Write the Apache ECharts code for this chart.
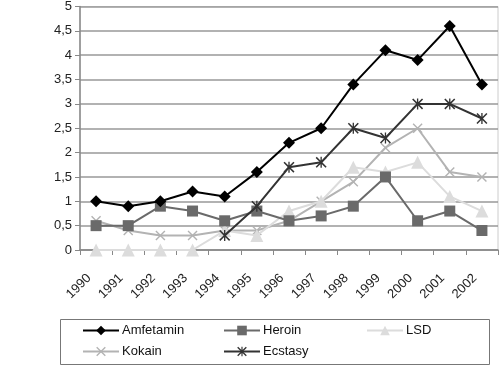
<!DOCTYPE html>
<html><head><meta charset="utf-8">
<script src="https://cdn.jsdelivr.net/npm/echarts@6/dist/echarts.min.js"></script>
<style>html,body{margin:0;padding:0;background:#fff}#c{width:500px;height:365px}</style>
</head><body><div id="c"></div>
<script>
const years = ['1990','1991','1992','1993','1994','1995','1996','1997','1998','1999','2000','2001','2002'];
const amfetamin = [1.0,0.9,1.0,1.2,1.1,1.6,2.2,2.5,3.4,4.1,3.9,4.6,3.4];
const heroin    = [0.5,0.5,0.9,0.8,0.6,0.8,0.6,0.7,0.9,1.5,0.6,0.8,0.4];
const lsd       = [0,0,0,0,0.4,0.3,0.8,1.0,1.7,1.6,1.8,1.1,0.8];
const kokain    = [0.6,0.4,0.3,0.3,0.4,0.4,0.6,1.0,1.4,2.1,2.5,1.6,1.5];
const ecstasy   = [null,null,null,null,0.3,0.9,1.7,1.8,2.5,2.3,3.0,3.0,2.7];
const yTicks = [0,0.5,1,1.5,2,2.5,3,3.5,4,4.5,5];

const crossPath = 'path://M0,2 L2,0 L10,8 L18,0 L20,2 L12,10 L20,18 L18,20 L10,12 L2,20 L0,18 L8,10 Z';
const starPath = 'path://M0,2 L2,0 L10,8 L18,0 L20,2 L12,10 L20,18 L18,20 L10,12 L2,20 L0,18 L8,10 Z M8.8,0 L11.2,0 L11.2,20 L8.8,20 Z';

const font = 'Liberation Sans, Arial, sans-serif';
function ser(name, data, color, symbol, size, z) {
  return {name, type:'line', data, symbol, symbolSize:size, z,
    lineStyle:{color, width:2}, itemStyle:{color, borderWidth:0},
    showAllSymbol:true, connectNulls:false, animation:false};
}
const chart = echarts.init(document.getElementById('c'));
const legendBase = {itemWidth:36, itemHeight:12, itemGap:0, textStyle:{fontFamily:font, fontSize:13, color:'#111', padding:[0,0,0,-2]}, selectedMode:false, padding:0};
chart.setOption({
  animation:false,
  grid:{left:80, right:2, top:6, bottom:115, show:true, borderColor:'#ccc', borderWidth:1},
  xAxis:{type:'category', data:years, boundaryGap:true,
    axisLine:{lineStyle:{color:'#888', width:1.5}},
    axisTick:{show:true, length:5, lineStyle:{color:'#888'}},
    axisLabel:{rotate:45, fontFamily:font, fontSize:13, color:'#222', margin:19, interval:0, padding:[0,10,0,0]},
    splitLine:{show:false}},
  yAxis:{type:'value', min:0, max:5, interval:0.5,
    axisLine:{show:true, lineStyle:{color:'#888', width:1.5}},
    axisTick:{show:true, length:5, lineStyle:{color:'#888'}},
    axisLabel:{fontFamily:font, fontSize:13, color:'#222', margin:8,
      formatter:v=>String(v).replace('.',',')},
    splitLine:{lineStyle:{color:'#999', width:1.5}}},
  legend:[
    Object.assign({left:82, top:324, data:['Amfetamin']}, legendBase),
    Object.assign({left:223, top:324, data:['Heroin']}, legendBase),
    Object.assign({left:366, top:324, data:['LSD']}, legendBase),
    Object.assign({left:82, top:345, data:['Kokain']}, legendBase),
    Object.assign({left:223, top:345, data:['Ecstasy']}, legendBase)
  ],
  graphic:[{type:'rect', shape:{x:60.5, y:319.5, width:429, height:45}, style:{fill:'none', stroke:'#777', lineWidth:1}}],
  series:[
    ser('Kokain', kokain, '#b3b3b3', crossPath, 10, 2),
    ser('LSD', lsd, '#dcdcdc', 'triangle', 13, 3),
    ser('Heroin', heroin, '#6a6a6a', 'rect', 11, 4),
    ser('Ecstasy', ecstasy, '#333333', starPath, 11, 5),
    ser('Amfetamin', amfetamin, '#000000', 'diamond', 12, 6)
  ]
});
</script></body></html>
